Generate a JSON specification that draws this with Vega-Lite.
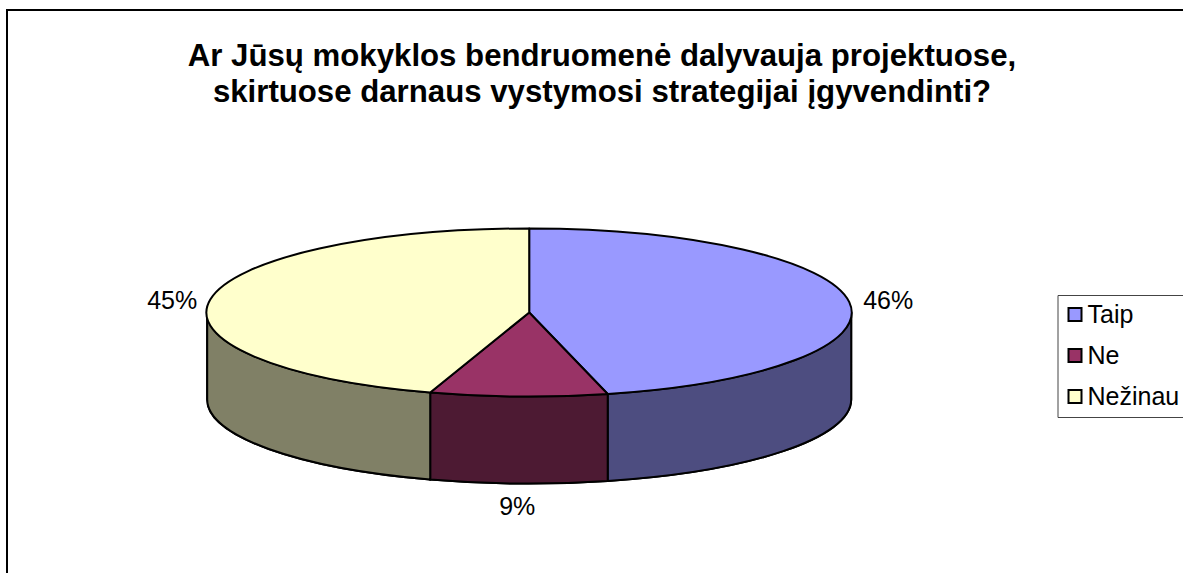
{
  "$schema": "https://vega.github.io/schema/vega-lite/v6.json",
  "width": 1180,
  "height": 566,
  "autosize": "none",
  "padding": {"left": 7, "top": 10, "right": 0, "bottom": 0},
  "background": "white",
  "view": {"stroke": "black", "strokeWidth": 2},
  "title": {
    "text": ["Ar Jūsų mokyklos bendruomenė dalyvauja projektuose,", "skirtuose darnaus vystymosi strategijai įgyvendinti?"],
    "font": "Liberation Sans",
    "fontSize": 31.2,
    "fontWeight": "bold",
    "color": "black",
    "anchor": "middle",
    "frame": "group",
    "baseline": "top",
    "lineHeight": 36,
    "offset": -98,
    "dx": 5
  },
  "data": {
    "values": [
      {"answer": "Taip", "share": 0.46},
      {"answer": "Ne", "share": 0.09},
      {"answer": "Nežinau", "share": 0.45}
    ]
  },
  "encoding": {
    "x": {"datum": 0, "type": "quantitative", "axis": null, "scale": {"domain": [-522.2, 657.8], "nice": false, "zero": false}},
    "y": {"datum": 0, "type": "quantitative", "axis": null, "scale": {"domain": [-263.5, 302.5], "nice": false, "zero": false}},
    "fill": {
      "field": "answer", "type": "nominal",
      "scale": {"domain": ["Taip", "Ne", "Nežinau"], "range": ["#9999FF", "#993366", "#FFFFCC"]},
      "legend": {
        "title": null,
        "orient": "none",
        "legendX": 1050.5,
        "legendY": 285,
        "symbolType": "square",
        "symbolSize": 169,
        "symbolStrokeColor": "black",
        "symbolStrokeWidth": 2,
        "symbolOpacity": 1,
        "symbolOffset": -2,
        "labelFont": "Liberation Sans",
        "labelFontSize": 25,
        "labelColor": "black",
        "labelOffset": 0,
        "rowPadding": 15,
        "padding": 7,
        "fillColor": "white",
        "strokeColor": "#444444"
      }
    }
  },
  "layer": [
    {
      "mark": {"type": "point", "filled": true, "opacity": 1, "size": 4, "stroke": "black", "strokeWidth": 2},
      "encoding": {
        "fill": {"value": "black"},
        "shape": {
          "field": "answer", "type": "nominal", "legend": null,
          "scale": {
            "domain": ["Taip", "Ne", "Nežinau"],
            "range": [
              "M322 0 L322 87 A322 84 0 0 1 78.5 168.5 L78.5 81.5 A322 84 0 0 0 322 0 Z",
              "M78.5 81.5 L78.5 168.5 A322 84 0 0 1 -99 167 L-99 80 A322 84 0 0 0 78.5 81.5 Z",
              "M-99 80 L-99 167 A322 84 0 0 1 -322 87 L-322 0 A322 84 0 0 0 -99 80 Z"
            ]
          }
        }
      }
    },
    {
      "mark": {"type": "point", "filled": true, "opacity": 1, "fillOpacity": 0.5, "size": 4, "stroke": "black", "strokeWidth": 2, "strokeJoin": "round"},
      "encoding": {
        "shape": {
          "field": "answer", "type": "nominal", "legend": null,
          "scale": {
            "domain": ["Taip", "Ne", "Nežinau"],
            "range": [
              "M322 0 L322 87 A322 84 0 0 1 78.5 168.5 L78.5 81.5 A322 84 0 0 0 322 0 Z",
              "M78.5 81.5 L78.5 168.5 A322 84 0 0 1 -99 167 L-99 80 A322 84 0 0 0 78.5 81.5 Z",
              "M-99 80 L-99 167 A322 84 0 0 1 -322 87 L-322 0 A322 84 0 0 0 -99 80 Z"
            ]
          }
        }
      }
    },
    {
      "mark": {"type": "point", "filled": true, "opacity": 1, "size": 4, "stroke": "black", "strokeWidth": 2, "strokeJoin": "round"},
      "encoding": {
        "shape": {
          "field": "answer", "type": "nominal", "legend": null,
          "scale": {
            "domain": ["Taip", "Ne", "Nežinau"],
            "range": [
              "M0 0 L0 -84 A322 84 0 0 1 78.5 81.5 Z",
              "M0 0 L78.5 81.5 A322 84 0 0 1 -99 80 Z",
              "M0 0 L-99 80 A322 84 0 0 1 0 -84 Z"
            ]
          }
        }
      }
    },
    {
      "transform": [{"filter": "datum.answer === 'Taip'"}],
      "mark": {"type": "text", "font": "Liberation Sans", "fontSize": 25, "dx": 359, "dy": -12, "align": "center", "baseline": "middle"},
      "encoding": {"fill": {"value": "black"}, "text": {"field": "share", "type": "quantitative", "format": ".0%"}}
    },
    {
      "transform": [{"filter": "datum.answer === 'Ne'"}],
      "mark": {"type": "text", "font": "Liberation Sans", "fontSize": 25, "dx": -12, "dy": 194, "align": "center", "baseline": "middle"},
      "encoding": {"fill": {"value": "black"}, "text": {"field": "share", "type": "quantitative", "format": ".0%"}}
    },
    {
      "transform": [{"filter": "datum.answer === 'Nežinau'"}],
      "mark": {"type": "text", "font": "Liberation Sans", "fontSize": 25, "dx": -357, "dy": -12, "align": "center", "baseline": "middle"},
      "encoding": {"fill": {"value": "black"}, "text": {"field": "share", "type": "quantitative", "format": ".0%"}}
    }
  ],
  "resolve": {"scale": {"shape": "independent"}}
}
